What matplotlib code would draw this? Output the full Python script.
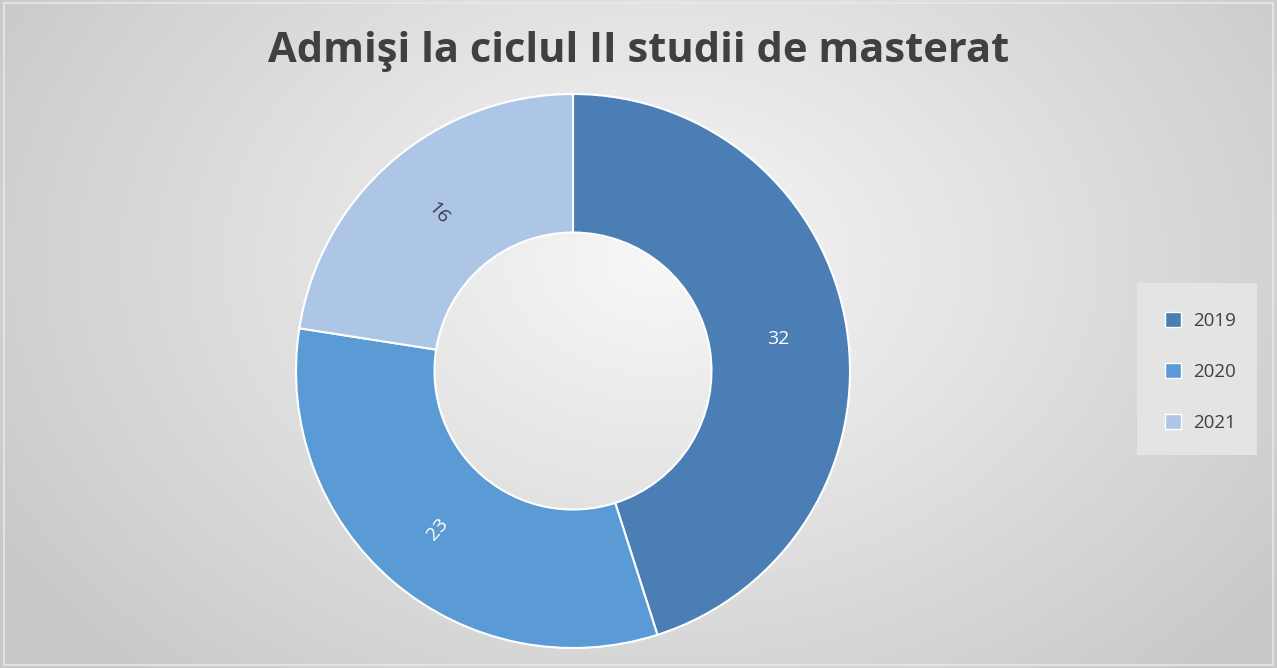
import numpy as np
import matplotlib.pyplot as plt
from matplotlib.patches import Rectangle

plt.rcParams['font.family'] = ['Open Sans', 'DejaVu Sans']

# data
years = ['2019', '2020', '2021']
admitted = [32, 23, 16]
colors = ['#4a7eb4', '#5b9bd5', '#adc6e6']
label_colors = ['white', 'white', '#3a3a4a']
label_rot = [0, 49, -49]
title = 'Admişi la ciclul II studii de masterat'

fig = plt.figure(figsize=(12.77, 6.68), dpi=100)

# radial gradient background
bg = fig.add_axes([0, 0, 1, 1])
yy, xx = np.mgrid[0:668, 0:1277]
d = np.sqrt(((xx - 660) / 760.0) ** 2 + ((yy - 260) / 560.0) ** 2)
d = np.clip(d, 0, 1)
shade = 0.97 - 0.18 * d
bg.imshow(np.dstack([shade, shade, shade]), extent=[0, 1, 0, 1], aspect='auto',
          origin='upper')
bg.add_patch(Rectangle((0.003, 0.005), 0.994, 0.99, fill=False,
                       edgecolor='#e8e8e8', linewidth=1.2, transform=bg.transAxes))
bg.set_axis_off()

# donut
ax = fig.add_axes([(573 - 277) / 1277, (668 - 371 - 277) / 668,
                   554 / 1277, 554 / 668])
wedges, _ = ax.pie(admitted, colors=colors, startangle=90, counterclock=False,
                   radius=1.0, wedgeprops=dict(width=0.5, edgecolor='white',
                                               linewidth=1.5))
ax.set_xlim(-1, 1)
ax.set_ylim(-1, 1)
ax.set_aspect('equal')
ax.set_axis_off()

for w, v, c, r in zip(wedges, admitted, label_colors, label_rot):
    ang = np.deg2rad((w.theta1 + w.theta2) / 2)
    ax.text(0.75 * np.cos(ang), 0.75 * np.sin(ang), str(v), color=c,
            fontsize=14, ha='center', va='center', rotation=r)

fig.text(0.5, 1 - 52 / 668, title, ha='center', va='center',
         fontsize=30, fontweight='bold', color='#404040')

# legend box
fig.patches.append(Rectangle((1137 / 1277, 1 - 455 / 668), 120 / 1277, 172 / 668,
                             transform=fig.transFigure, facecolor='#e4e4e4',
                             edgecolor='none', zorder=1))
handles = [Rectangle((0, 0), 1, 1, facecolor=c, edgecolor='white', linewidth=1)
           for c in colors]
leg = fig.legend(handles, years, loc='center', bbox_to_anchor=(1200 / 1277, 1 - 372 / 668),
                 frameon=False, fontsize=13.5, labelcolor='#404040',
                 handlelength=0.9, handleheight=0.9, labelspacing=1.75,
                 handletextpad=0.6)

fig.savefig('out.png', dpi=100)
